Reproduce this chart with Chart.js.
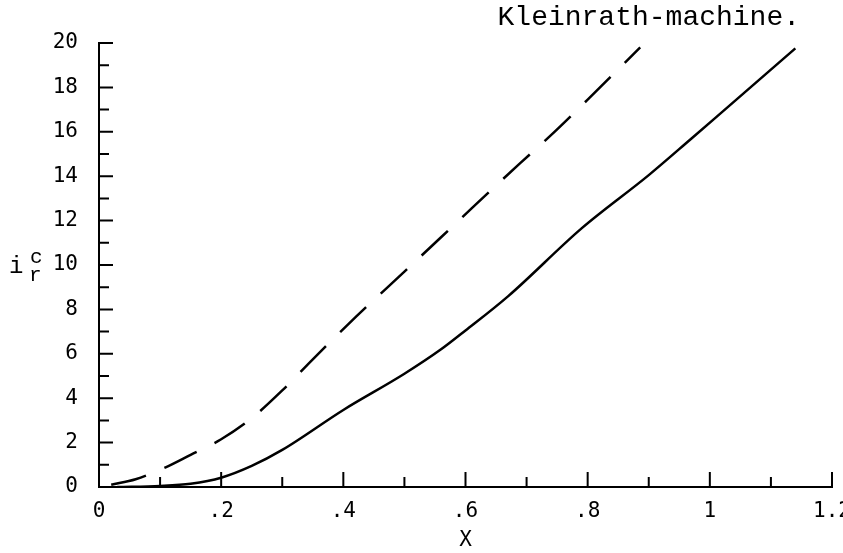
<!DOCTYPE html>
<html>
<head>
<meta charset="utf-8">
<script src="https://cdn.jsdelivr.net/npm/chart.js@4.4.1/dist/chart.umd.min.js"></script>
<style>
  html, body { margin: 0; padding: 0; background: #fff; }
  #wrap { width: 843px; height: 553px; position: relative; }
</style>
</head>
<body>
<div id="wrap"><canvas id="c" width="843" height="553"></canvas></div>
<script>
// ---- data ----
const titleText = 'Kleinrath-machine.';
const xAxisTitle = 'X';
const xTickValues = [0, 0.2, 0.4, 0.6, 0.8, 1, 1.2];
const xTickLabels = ['0', '.2', '.4', '.6', '.8', '1', '1.2'];
const yTickValues = [0, 2, 4, 6, 8, 10, 12, 14, 16, 18, 20];
const yTickLabels = ['0', '2', '4', '6', '8', '10', '12', '14', '16', '18', '20'];

const dashedX = [0.02, 0.06, 0.11, 0.15, 0.2, 0.25, 0.3, 0.35, 0.42, 0.5, 0.56, 0.61, 0.69, 0.74, 0.8, 0.886];
const dashedY = [0.1, 0.35, 0.9, 1.45, 2.15, 3.1, 4.35, 5.75, 7.65, 9.7, 11.25, 12.55, 14.6, 15.85, 17.45, 19.8];

const solidX = [0.03, 0.1, 0.15, 0.2, 0.25, 0.3, 0.4, 0.5, 0.56, 0.6, 0.67, 0.79, 0.9, 0.97, 1.01, 1.14];
const solidY = [0, 0.05, 0.15, 0.42, 0.95, 1.67, 3.47, 5.1, 6.2, 7.05, 8.6, 11.65, 14.05, 15.7, 16.65, 19.76];

const toPts = (xs, ys) => xs.map((x, i) => ({ x: x, y: ys[i] }));

const tickFont = { family: "'DejaVu Sans Mono', 'Liberation Mono', monospace", size: 21 };

// inward major/minor ticks, title and y-axis label drawn with the chart's scales
const decor = {
  id: 'decor',
  afterDraw(chart) {
    const ctx = chart.ctx;
    const xs = chart.scales.x, ys = chart.scales.y;
    const ca = chart.chartArea;
    ctx.save();
    ctx.strokeStyle = '#000';
    ctx.lineWidth = 2;
    ctx.beginPath();
    for (let i = 0; i <= 12; i++) {
      const v = i / 10;
      const px = xs.getPixelForValue(v);
      const len = (i % 2 === 0) ? 15 : 10;
      ctx.moveTo(px, ca.bottom);
      ctx.lineTo(px, ca.bottom - len);
    }
    for (let i = 0; i <= 20; i++) {
      const py = ys.getPixelForValue(i);
      const len = (i % 2 === 0) ? 14 : 10;
      ctx.moveTo(ca.left, py);
      ctx.lineTo(ca.left + len, py);
    }
    ctx.stroke();

    // title
    ctx.fillStyle = '#000';
    ctx.font = "28px 'Liberation Mono', 'DejaVu Sans Mono', monospace";
    ctx.textAlign = 'right';
    ctx.textBaseline = 'alphabetic';
    ctx.fillText(titleText, 800, 25);

    // y label i with sub r and sup c
    ctx.textAlign = 'left';
    ctx.font = "24px 'Liberation Mono', monospace";
    ctx.fillText('i', 9, 273);
    ctx.font = "21px 'Liberation Mono', monospace";
    ctx.fillText('c', 30, 263);
    ctx.fillText('r', 29, 281);
    ctx.restore();
  }
};

new Chart(document.getElementById('c'), {
  type: 'scatter',
  data: {
    datasets: [
      {
        label: 'dashed',
        data: toPts(dashedX, dashedY),
        showLine: true,
        borderColor: '#000',
        borderWidth: 2.5,
        borderDash: [36, 20],
        pointRadius: 0,
        tension: 0.4,
        cubicInterpolationMode: 'monotone'
      },
      {
        label: 'solid',
        data: toPts(solidX, solidY),
        showLine: true,
        borderColor: '#000',
        borderWidth: 2.5,
        pointRadius: 0,
        tension: 0.4,
        cubicInterpolationMode: 'monotone'
      }
    ]
  },
  plugins: [decor],
  options: {
    responsive: false,
    animation: false,
    devicePixelRatio: 1,
    layout: { padding: { top: 43, right: 11, left: 0, bottom: 0 } },
    plugins: {
      legend: { display: false },
      tooltip: { enabled: false },
      title: { display: false }
    },
    scales: {
      x: {
        type: 'linear',
        min: 0,
        max: 1.2,
        afterBuildTicks(scale) { scale.ticks = xTickValues.map(v => ({ value: v })); },
        afterFit(scale) { scale.height = 66; scale.paddingLeft = 0; scale.paddingRight = 0; },
        ticks: {
          color: '#000',
          font: tickFont,
          padding: 12,
          maxRotation: 0,
          autoSkip: false,
          callback(value) { const i = xTickValues.indexOf(value); return i >= 0 ? xTickLabels[i] : ''; }
        },
        grid: { display: true, drawOnChartArea: false, drawTicks: false },
        border: { display: true, color: '#000', width: 2 },
        title: { display: true, text: xAxisTitle, color: '#000', font: tickFont, padding: { top: 0, bottom: 0 } }
      },
      y: {
        type: 'linear',
        min: 0,
        max: 20,
        afterBuildTicks(scale) { scale.ticks = yTickValues.map(v => ({ value: v })); },
        afterFit(scale) { scale.width = 99; scale.paddingTop = 0; scale.paddingBottom = 0; },
        ticks: {
          color: '#000',
          font: tickFont,
          padding: 21,
          autoSkip: false,
          callback(value) { const i = yTickValues.indexOf(value); return i >= 0 ? yTickLabels[i] : ''; }
        },
        grid: { display: true, drawOnChartArea: false, drawTicks: false },
        border: { display: true, color: '#000', width: 2 }
      }
    }
  }
});
</script>
</body>
</html>
